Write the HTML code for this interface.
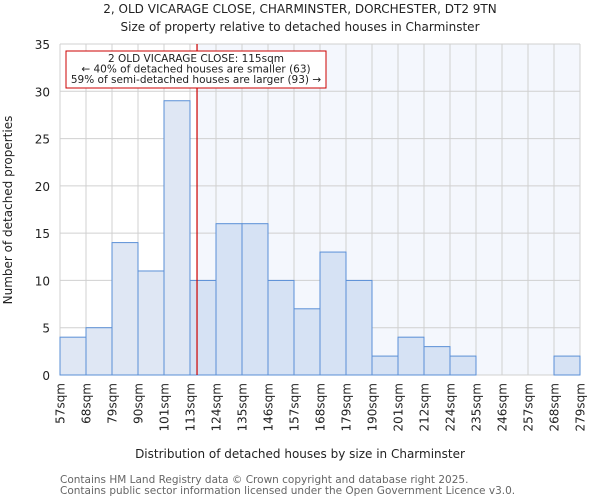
<!DOCTYPE html>
<html><head><meta charset="utf-8"><style>
body{margin:0;background:#fff;}
svg{display:block;font-family:"DejaVu Sans","Liberation Sans",sans-serif;}
</style></head><body>
<svg id="chart" width="600" height="500" viewBox="0 0 600 500" xmlns="http://www.w3.org/2000/svg">
<text x="300" y="13" text-anchor="middle" font-size="12" fill="#222">2, OLD VICARAGE CLOSE, CHARMINSTER, DORCHESTER, DT2 9TN</text>
<text x="300" y="31" text-anchor="middle" font-size="12" fill="#222">Size of property relative to detached houses in Charminster</text>
<g id="plot"></g>
<text x="300" y="458" text-anchor="middle" font-size="12" fill="#222">Distribution of detached houses by size in Charminster</text>
<text transform="translate(12,210) rotate(-90)" text-anchor="middle" font-size="12" fill="#222">Number of detached properties</text>
<text x="60" y="483" font-size="10.5" fill="#666">Contains HM Land Registry data © Crown copyright and database right 2025.</text>
<text x="60" y="494" font-size="10.5" fill="#666">Contains public sector information licensed under the Open Government Licence v3.0.</text>
</svg>
<script>
const binLabels=["57sqm","68sqm","79sqm","90sqm","101sqm","113sqm","124sqm","135sqm","146sqm","157sqm","168sqm","179sqm","190sqm","201sqm","212sqm","224sqm","235sqm","246sqm","257sqm","268sqm","279sqm"];
const counts=[4,5,14,11,29,10,16,16,10,7,13,10,2,4,3,2,0,0,0,2];
const yTicks=[0,5,10,15,20,25,30,35];
const propertySize=115.5;
const binStart=57, binWidthSqm=11.1;

const X0=60,X1=580,Y0=375,Y1=44,yMax=35;
const nb=counts.length;
const xs=i=>X0+(X1-X0)*i/nb;
const xv=v=>X0+(v-binStart)/(binWidthSqm*nb)*(X1-X0);
const ys=v=>Y0-(Y0-Y1)*v/yMax;
const NS="http://www.w3.org/2000/svg";
const g=document.getElementById('plot');
function mk(t,a){const e=document.createElementNS(NS,t);for(const k in a)e.setAttribute(k,a[k]);g.appendChild(e);return e;}
const rx=xv(propertySize);
let e=mk('rect',{x:rx,y:Y1,width:X1-rx,height:Y0-Y1,fill:'#f4f7fd'});


for(let i=0;i<=nb;i++){
 e=mk('line',{x1:xs(i),x2:xs(i),y1:Y1,y2:Y0,stroke:'#d0d0d0','stroke-width':1});
 
 
 e=mk('text',{transform:`translate(${xs(i)+4.5},${Y0+8}) rotate(-90)`,'text-anchor':'end','font-size':12,fill:'#222'});
 e.textContent=binLabels[i];
 
 
}
yTicks.forEach(t=>{
 e=mk('line',{x1:X0,x2:X1,y1:ys(t),y2:ys(t),stroke:'#d0d0d0','stroke-width':1});
 
 
 e=mk('text',{x:X0-10,y:ys(t)+5,'text-anchor':'end','font-size':12,fill:'#222'});
 e.textContent=t;
 
 
});
counts.forEach((c,i)=>{
 if(c<=0)return;
 const left=xs(i+1)<=rx;
 e=mk('rect',{x:xs(i),y:ys(c),width:xs(i+1)-xs(i),height:Y0-ys(c),fill:left?'#dfe7f4':'#d6e2f4',stroke:'#5a8fd6','stroke-width':1});
 
 
});
e=mk('line',{x1:rx,x2:rx,y1:Y1,y2:Y0,stroke:'#cc0000','stroke-width':1.2});


e=mk('rect',{x:66,y:51,width:260,height:37,fill:'#fff',stroke:'#cc0000','stroke-width':1});


["2 OLD VICARAGE CLOSE: 115sqm","← 40% of detached houses are smaller (63)","59% of semi-detached houses are larger (93) →"].forEach((t,k)=>{
 e=mk('text',{x:196,y:62+k*10.5,'text-anchor':'middle','font-size':10.5,fill:'#222'});
 e.textContent=t;
 
 
});
</script>
</body></html>
